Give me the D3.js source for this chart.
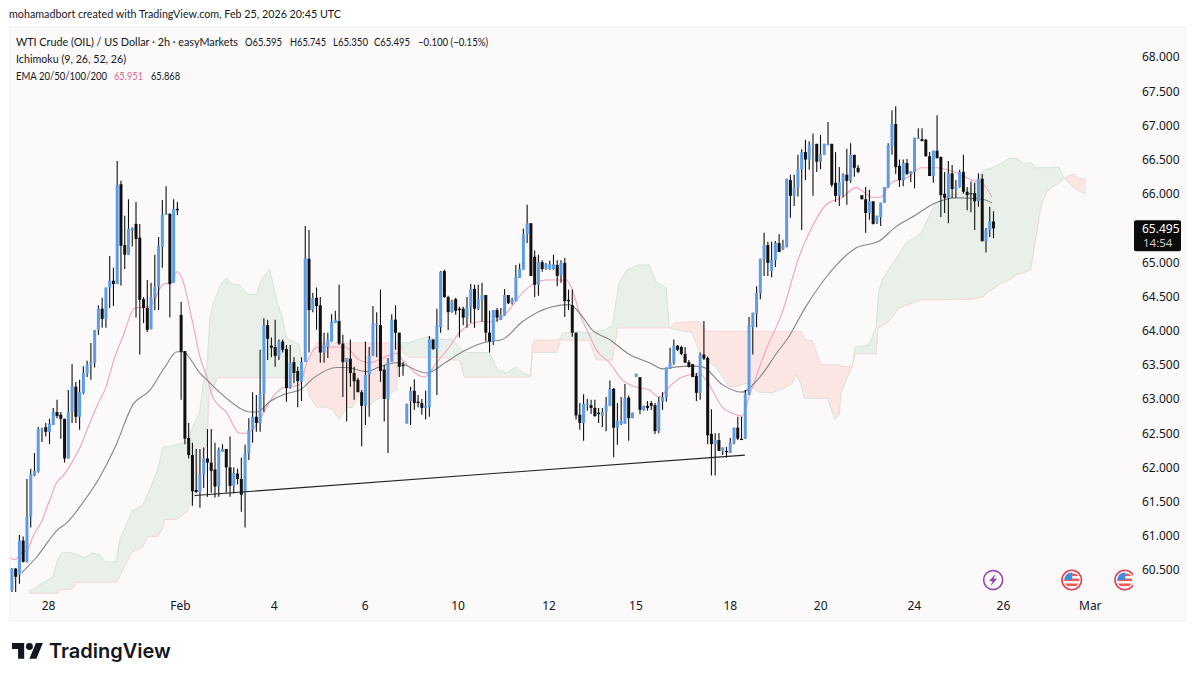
<!DOCTYPE html>
<html>
<head>
<meta charset="utf-8">
<script src="https://cdn.jsdelivr.net/npm/d3@7"></script>
<style>
  html, body { margin: 0; padding: 0; background: #ffffff; }
  text { font-family: Lato, sans-serif; fill: #131722; }
</style>
</head>
<body>
<div id="chart"></div>
<script>
// candles, 2h bars
const opens = [60.20,60.52,60.43,60.93,60.62,61.28,61.88,61.94,62.55,62.59,62.52,62.62,62.81,62.77,62.71,62.13,62.81,63.18,62.74,63.09,
  63.37,63.50,63.53,64.01,64.32,64.17,64.63,64.73,64.68,66.14,65.25,65.11,65.47,65.56,65.36,64.46,64.33,64.02,64.49,64.64,
  65.22,65.69,65.71,64.70,65.78,64.23,63.70,62.43,62.18,61.67,61.64,61.90,62.13,62.07,61.97,61.72,62.23,62.27,62.00,61.73,
  61.91,61.83,61.62,62.21,62.55,62.74,62.65,63.07,64.08,63.78,63.76,63.63,63.84,63.73,63.16,63.54,63.41,63.25,63.54,65.05,
  64.30,64.48,64.37,63.68,63.76,63.84,64.11,64.14,63.81,63.54,63.59,63.38,63.28,63.10,62.90,63.35,63.63,64.08,64.08,63.43,
  63.00,63.54,64.16,63.97,63.50,62.64,62.97,63.12,62.96,62.94,62.87,62.88,63.87,63.73,64.05,64.87,64.49,64.27,64.46,64.32,
  64.32,64.19,64.35,64.61,64.32,64.45,64.52,63.97,63.84,64.30,64.16,64.22,64.52,64.40,64.43,64.77,64.89,65.41,65.57,65.08,
  64.67,65.00,64.90,64.90,64.90,64.96,64.81,64.99,64.45,64.37,63.97,62.77,62.65,62.91,62.91,62.87,62.80,62.75,62.81,62.90,
  63.15,62.58,62.64,62.64,63.02,62.72,63.32,63.32,62.84,62.90,62.94,62.91,62.53,62.96,63.02,63.44,63.53,63.78,63.76,63.66,
  63.54,63.51,63.34,63.09,63.65,63.60,62.49,62.34,62.40,62.24,62.24,62.21,62.36,62.58,62.42,62.42,63.06,64.05,64.24,64.55,
  65.05,65.25,64.87,65.03,65.28,65.19,65.22,66.20,65.97,66.09,66.36,66.61,66.50,66.71,66.73,66.47,66.57,66.71,66.73,66.16,
  65.97,66.17,66.28,66.19,66.57,66.38,65.98,65.92,65.72,65.89,65.58,65.66,65.87,66.09,66.69,67.02,66.41,66.20,66.45,66.29,
  66.32,66.80,66.80,66.79,66.55,66.26,66.63,66.54,66.00,65.94,66.30,66.06,66.10,66.32,66.03,66.01,66.01,65.89,66.22,65.31,
  65.46,65.595];
const highs = [60.53,60.53,61.01,60.99,61.83,61.98,62.21,62.59,62.58,62.65,62.71,62.87,62.99,62.81,62.71,63.13,63.51,63.25,63.28,63.48,
  63.56,63.82,64.01,64.37,64.48,64.63,65.09,64.92,66.48,66.19,65.68,65.92,65.51,65.88,65.56,64.49,64.74,64.70,65.11,65.37,
  65.91,66.11,65.71,65.92,65.88,64.42,63.70,62.65,62.36,62.27,62.27,62.29,62.56,62.56,62.36,62.29,62.34,62.27,62.45,62.00,
  61.98,62.14,62.33,62.72,63.10,63.06,63.72,64.18,64.16,63.90,64.16,63.87,63.87,63.79,63.79,63.61,63.47,63.61,65.53,65.47,
  64.55,64.63,64.49,63.97,63.97,64.24,64.29,64.67,63.94,63.60,63.87,63.47,63.31,63.13,63.84,63.76,64.36,64.27,64.60,63.50,
  63.60,64.24,64.37,63.97,63.54,62.93,63.18,63.29,63.06,63.00,63.12,63.92,63.87,64.32,64.87,64.89,64.51,64.45,64.48,64.35,
  64.35,64.49,64.68,64.67,64.67,64.70,64.52,64.29,64.30,64.33,64.33,64.61,64.52,64.48,64.96,64.98,65.49,65.84,65.57,65.17,
  65.11,65.03,64.99,65.02,65.11,65.03,65.03,65.06,64.60,64.60,63.97,62.94,63.07,63.00,62.99,62.99,62.87,62.87,63.03,63.27,
  63.16,62.94,63.03,63.22,63.05,62.80,63.37,63.32,62.90,62.97,62.97,62.94,63.03,63.10,63.46,63.75,63.87,63.79,63.78,63.76,
  63.57,63.51,63.38,63.68,64.14,63.62,62.85,62.50,62.50,62.29,62.30,62.43,62.58,62.74,62.74,63.13,64.20,64.26,64.65,65.05,
  65.43,65.30,65.30,65.31,65.41,65.33,66.22,66.28,66.28,66.57,66.65,66.79,66.77,66.88,66.73,66.86,66.73,67.05,66.73,66.61,
  66.39,66.30,66.66,66.74,66.57,66.42,65.98,66.10,66.06,65.89,65.68,65.87,66.10,66.74,67.22,67.28,66.50,66.50,66.51,66.33,
  66.82,66.96,66.96,66.80,66.61,66.63,67.15,66.54,66.32,66.48,66.42,66.20,66.35,66.57,66.10,66.18,66.16,66.30,66.29,65.50,
  65.81,65.745];
const lows = [60.18,60.18,60.30,60.61,60.61,61.12,61.87,61.92,62.37,62.45,62.34,62.62,62.72,62.42,62.07,62.13,62.65,62.65,62.55,63.07,
  63.32,63.28,63.46,63.94,64.04,64.04,64.33,64.36,64.68,64.66,64.90,65.11,65.23,64.19,63.65,64.11,63.98,64.02,64.30,64.30,
  64.92,65.69,64.19,64.70,65.69,62.99,62.34,62.13,61.44,61.63,61.41,61.70,61.57,61.63,61.56,61.57,62.23,61.63,61.57,61.62,
  61.75,61.35,61.12,62.11,62.36,62.52,62.52,62.81,63.57,63.61,63.47,63.57,63.68,62.96,63.15,63.23,62.88,62.97,63.54,63.68,
  64.27,64.01,63.53,63.53,63.60,63.84,64.11,63.79,63.03,62.67,63.18,62.99,63.10,62.31,62.62,62.74,63.63,63.61,63.25,62.67,
  62.21,63.54,63.72,63.32,63.34,62.64,62.62,62.84,62.88,62.77,62.70,62.74,63.72,63.06,63.97,64.48,64.01,64.26,64.23,63.90,
  64.08,64.04,64.11,64.04,64.30,64.13,63.84,63.68,63.79,64.13,64.16,64.22,64.39,64.38,64.43,64.77,64.89,65.28,64.80,64.49,
  64.51,64.86,64.89,64.89,64.89,64.65,64.70,64.20,64.30,63.91,62.70,62.55,62.39,62.83,62.78,62.74,62.65,62.59,62.53,62.90,
  62.15,62.33,62.62,62.64,62.39,62.72,63.32,62.78,62.83,62.83,62.84,62.49,62.50,62.84,62.96,63.44,63.50,63.70,63.64,63.53,
  63.46,63.32,62.97,62.99,63.57,62.34,61.88,61.88,62.24,62.18,62.14,62.21,62.34,62.40,62.42,62.42,63.06,63.65,64.05,64.46,
  64.80,64.80,64.78,64.93,65.15,65.18,65.22,65.65,65.82,65.96,65.47,66.20,66.35,65.97,66.32,66.36,66.57,66.71,66.10,65.88,
  65.82,65.95,65.84,66.16,66.25,66.30,65.92,65.43,65.62,65.55,65.56,65.53,65.87,66.09,66.57,66.29,66.10,66.11,66.28,66.17,
  66.08,66.80,66.77,66.54,66.26,66.16,66.52,65.66,65.72,65.57,65.94,65.94,66.09,66.00,65.76,65.73,65.47,65.81,65.30,65.14,
  65.37,65.35];
const closes = [60.52,60.40,60.93,60.62,61.28,61.90,61.95,62.56,62.56,62.52,62.64,62.81,62.75,62.71,62.13,62.81,63.19,62.74,63.10,63.38,
  63.50,63.54,64.01,64.32,64.17,64.63,64.73,64.68,66.13,65.24,65.11,65.49,65.50,65.34,64.45,64.33,64.01,64.49,64.64,65.24,
  65.69,65.71,64.68,65.78,65.76,63.69,62.42,62.18,61.65,61.64,61.90,62.13,62.07,61.95,61.72,62.26,62.27,62.00,61.73,61.92,
  61.83,61.60,62.21,62.55,62.74,62.65,63.07,64.08,63.88,63.75,63.63,63.84,63.72,63.16,63.53,63.38,63.26,63.54,65.06,64.30,
  64.48,64.36,63.68,63.79,63.87,64.13,64.16,63.81,63.54,63.60,63.38,63.26,63.10,62.90,63.35,63.63,64.10,64.10,63.41,63.00,
  63.54,64.16,63.97,63.47,63.48,62.93,63.12,62.94,62.94,62.87,62.90,63.87,63.73,64.08,64.86,64.49,64.27,64.43,64.29,64.30,
  64.19,64.35,64.61,64.32,64.46,64.52,63.97,63.84,64.30,64.19,64.23,64.52,64.40,64.45,64.79,64.90,65.41,65.57,64.80,64.67,
  65.00,64.90,64.97,64.97,64.97,64.80,64.99,64.43,64.43,63.97,62.76,62.65,62.93,62.93,62.87,62.75,62.78,62.81,62.91,63.15,
  62.58,62.68,62.68,63.02,62.72,62.80,63.37,62.84,62.90,62.87,62.90,62.53,62.96,63.03,63.46,63.53,63.78,63.72,63.66,63.53,
  63.47,63.32,63.09,63.65,63.59,62.47,62.34,62.40,62.24,62.29,62.23,62.36,62.58,62.42,62.40,63.07,64.08,64.26,64.55,65.05,
  65.25,64.99,65.03,65.28,65.15,65.24,66.22,65.97,66.09,66.36,66.61,66.50,66.71,66.73,66.47,66.58,66.73,66.73,66.13,65.97,
  66.17,66.28,66.19,66.57,66.38,66.32,65.92,65.72,65.89,65.56,65.68,65.87,66.10,66.71,67.02,66.39,66.20,66.45,66.29,66.33,
  66.82,66.82,66.77,66.55,66.26,66.63,66.52,65.98,65.94,66.30,66.07,66.10,66.32,66.03,65.98,66.00,65.89,66.22,65.31,65.47,
  65.60,65.495];

// ichimoku leading spans, sampled where the edge of the cloud bends
const cloudBars = [4.5,8.2,10.9,12.2,12.7,13.5,15.9,17.5,19.4,21.2,23.4,24.7,27.3,27.9,28.7,31.9,34.8,36.1,38.0,38.8,40.1,40.6,43.8,46.5,49.1,49.9,51.0,51.8,52.0,52.3,52.6,53.4,54.7,55.8,57.1,58.7,60.5,62.7,65.1,65.9,68.5,70.4,72.0,73.0,73.8,76.5,77.6,
  78.4,79.2,81.0,83.7,85.3,87.1,89.0,90.6,92.4,94.6,97.0,98.5,102.3,102.5,103.1,103.5,
  103.9,105.7,110.5,112.9,115.5,117.1,119.0,120.3,120.9,127.0,129.1,131.5,134.1,135.8,137.6,137.9,
  138.4,138.9,144.8,145.6,145.8,
  146.4,150.4,153.5,155.4,157.5,159.7,161.0,161.5,163.6,166.8,169.5,171.3,174.0,174.8,175.1,
  176.1,180.9,182.8,184.6,187.3,190.7,192.6,195.2,198.7,202.1,205.3,207.5,208.5,209.9,210.7,212.8,215.2,216.8,218.9,220.0,220.5,223.4,
  224.2,227.9,229.8,230.3,230.6,231.4,232.7,235.9,237.8,241.8,243.4,245.7,255.3,258.5,259.3,260.6,263.3,265.1,267.2,269.1,270.4,270.9,272.5,273.6,275.2,276.5,278.4,279.7,
  281.1,282.4,283.7,285.6];
const spanA = [60.19,60.31,60.40,60.65,60.71,60.76,60.75,60.72,60.68,60.75,60.72,60.62,60.62,60.68,60.94,61.36,61.45,61.60,61.86,61.97,62.29,62.30,62.33,62.37,62.72,62.80,63.28,63.47,63.57,63.87,64.16,64.37,64.56,64.70,64.77,64.68,64.67,64.53,64.53,64.70,64.90,64.45,64.16,63.90,63.87,63.79,63.34,
  63.18,63.03,62.88,62.88,62.84,62.70,62.87,62.88,63.09,62.88,62.99,63.03,63.13,63.43,63.69,63.78,
  63.82,63.83,63.91,63.88,63.87,63.87,63.76,63.69,63.68,63.68,63.43,63.38,63.47,63.38,63.35,63.33,
  63.68,63.68,63.68,63.79,63.87,
  63.96,63.99,63.96,63.99,64.01,64.08,64.55,64.71,64.89,64.96,64.96,64.71,64.62,64.05,64.04,
  64.02,63.97,63.68,63.57,63.46,63.18,63.18,63.23,63.10,63.09,63.16,63.23,63.35,63.20,63.01,63.01,63.01,63.01,62.70,62.77,63.10,63.47,
  63.76,63.79,64.05,64.49,64.60,64.74,64.86,65.12,65.28,65.43,65.62,65.87,66.10,66.35,66.36,66.38,66.45,66.52,66.52,66.43,66.46,66.45,66.38,66.38,66.38,66.38,66.39,66.23,
  66.16,66.09,66.04,66.00];
const spanB = [60.16,60.16,60.16,60.16,60.21,60.21,60.22,60.32,60.32,60.32,60.32,60.32,60.32,60.32,60.41,60.76,60.84,60.99,60.99,60.99,61.12,61.24,61.24,61.35,61.63,62.07,62.23,62.34,62.36,63.03,63.06,63.13,63.31,63.31,63.31,63.31,63.31,63.31,63.31,63.31,63.31,63.31,63.31,63.31,63.31,63.31,63.34,
  63.53,63.64,63.82,63.82,63.82,63.82,63.82,63.82,63.82,63.82,63.82,63.82,63.82,63.82,63.80,63.78,
  63.68,63.61,63.61,63.61,63.60,63.57,63.57,63.32,63.32,63.32,63.32,63.32,63.32,63.32,63.32,63.33,
  63.79,63.86,63.86,63.88,63.87,
  63.86,63.86,63.86,63.57,63.57,63.57,64.04,64.04,64.04,64.04,64.04,64.04,64.04,64.04,64.04,
  64.11,64.13,64.13,63.99,63.99,63.99,63.99,63.99,63.99,63.99,63.99,63.99,63.99,63.99,63.87,63.85,63.50,63.50,63.50,63.50,63.48,63.47,
  63.66,63.66,63.66,64.05,64.05,64.07,64.11,64.33,64.37,64.45,64.45,64.45,64.46,64.50,64.56,64.60,64.70,64.74,64.82,64.85,64.88,64.89,65.44,65.81,66.03,66.09,66.16,66.23,
  66.26,66.29,66.22,66.22];

// EMA 20
const ema20Bars = [-0.5,0.8,2.6,4.2,5.6,7.9,10.1,11.9,13.5,15.9,18.1,20.7,23.4,24.7,27.4,29.5,32.7,36.7,40.1,42.5,43.9,45.2,47.9,50.0,52.1,53.4,57.1,60.5,62.7,65.9,69.4,72.0,73.9,76.5,78.4,81.0,84.5,88.5,92.4,95.1,98.6,102.3,103.9,109.7,112.9,116.3,119.0,124.3,127.7,132.2,135.7,142.1,147.4,149.0,150.9,153.5,155.4,158.9,162.3,165.0,169.5,172.1,174.8,178.2,182.8,184.6,188.9,192.6,194.2,196.0,200.5,204.8,209.3,212.0,216.5,220.8,224.5,228.7,231.1,232.4,234.0,237.8,241.8,245.7,251.0,255.3,257.9,260.6];
const ema20 = [60.68,60.65,60.75,60.80,60.99,61.21,61.53,61.78,61.87,62.07,62.29,62.65,62.99,63.13,63.62,63.91,64.33,64.35,64.67,64.71,64.86,64.77,64.16,63.62,63.28,63.03,62.80,62.50,62.50,62.70,63.03,63.16,63.18,63.21,63.53,63.75,63.76,63.76,63.57,63.53,63.60,63.67,63.57,63.32,63.53,63.76,63.97,64.13,64.13,64.30,64.55,64.74,64.74,64.60,64.26,63.94,63.72,63.53,63.28,63.19,63.13,63.03,63.18,63.32,63.37,63.28,62.88,62.77,62.75,63.03,63.72,64.26,65.08,65.43,65.84,65.95,66.09,65.95,65.95,66.06,66.17,66.23,66.38,66.38,66.31,66.20,66.16,65.951];

// EMA 50
const ema50Bars = [2.6,6.6,12.2,14.6,18.8,23.4,27.4,32.1,36.7,40.6,43.9,45.4,50.0,51.8,55.2,60.5,63.2,65.3,68.5,72.0,73.9,76.5,80.5,86.4,89.0,94.3,97.7,102.3,110.2,115.5,119.8,125.1,130.4,135.7,143.7,148.2,150.9,154.3,158.9,164.2,169.5,173.0,176.7,180.9,183.6,188.9,194.2,198.7,204.0,206.1,211.1,216.5,224.5,230.6,235.1,239.4,245.7,251.0,257.9,260.6];
const ema50 = [60.46,60.69,61.09,61.19,61.48,61.86,62.29,62.91,63.13,63.46,63.69,63.69,63.38,63.28,63.10,62.87,62.81,62.81,62.96,63.06,63.09,63.13,63.32,63.46,63.46,63.40,63.47,63.53,63.38,63.54,63.69,63.82,63.87,64.13,64.35,64.38,64.26,64.01,63.87,63.65,63.53,63.44,63.47,63.48,63.47,63.21,63.10,63.31,63.72,63.87,64.35,64.78,65.21,65.31,65.52,65.66,65.87,65.94,65.92,65.868];

// hand drawn trend line
const trendBars = [48.6, 194.9];
const trendPrices = [61.59, 62.18];

// axes
const priceTicks = [68,67.5,67,66.5,66,65,64.5,64,63.5,63,62.5,62,61.5,61,60.5];
const dateLabels = ["28","Feb","4","6","10","12","15","18","20","24","26","Mar"];
const dateBars = [9.6,44.7,69.6,93.8,118.5,142.7,165.8,190.9,214.9,239.8,263.5,286.6];

// calendar events on the time axis
const eventBars = [260.9,281.8,295.9];
const eventKinds = ["earnings","flag","flag"];

const lastPrice = 65.495;
const countdown = "14:54";

const width = 1195, height = 681;
const panel = { left: 10, top: 27, right: 1185, bottom: 621 };
const plotRight = 1133;

const BLUE = "#5e9de6", BLACK = "#111111";
const AXIS_FONT = '"Noto Sans", sans-serif';

const svg = d3.select("#chart").append("svg")
  .attr("width", width)
  .attr("height", height)
  .style("display", "block");

svg.append("rect")
  .attr("x", panel.left).attr("y", panel.top)
  .attr("width", panel.right - panel.left).attr("height", panel.bottom - panel.top)
  .attr("fill", "#fbf9fa")
  .attr("stroke", "#f2f0f1");

svg.append("clipPath").attr("id", "plot").append("rect")
  .attr("x", panel.left).attr("y", panel.top)
  .attr("width", plotRight - panel.left).attr("height", panel.bottom - panel.top);

const x = d3.scaleLinear().domain([0, 261]).range([11.9, 993.5]);
const y = d3.scaleLinear().domain([68, 60.5]).range([57, 570]);

const g = svg.append("g").attr("clip-path", "url(#plot)");

// Cloud
const cloud = cloudBars.map((bar, i) => ({ bar, a: spanA[i], b: spanB[i] }));
const cloudArea = d3.area()
  .x(d => x(d.bar))
  .y0(d => y(d.a))
  .y1(d => y(d.b));

g.append("path")
  .attr("d", cloudArea.defined(d => d.a >= d.b)(cloud))
  .attr("fill", "#e8f0e9");
g.append("path")
  .attr("d", cloudArea.defined(d => d.a <= d.b)(cloud))
  .attr("fill", "#fbe6e4");

g.append("path")
  .attr("d", d3.line().x(d => x(d.bar)).y(d => y(d.a))(cloud))
  .attr("fill", "none")
  .attr("stroke", "#d6e5d8");
g.append("path")
  .attr("d", d3.line().x(d => x(d.bar)).y(d => y(d.b))(cloud))
  .attr("fill", "none")
  .attr("stroke", "#f5d6d3");

// EMAs
const emaLine = d3.line().curve(d3.curveMonotoneX).x(d => x(d[0])).y(d => y(d[1]));
g.append("path")
  .attr("d", emaLine(d3.zip(ema20Bars, ema20)))
  .attr("fill", "none")
  .attr("stroke", "#f0a3bc")
  .attr("stroke-width", 1.1);
g.append("path")
  .attr("d", emaLine(d3.zip(ema50Bars, ema50)))
  .attr("fill", "none")
  .attr("stroke", "#858585")
  .attr("stroke-width", 1.1);

// Candles
const bars = opens.map((o, i) => ({ i, o, h: highs[i], l: lows[i], c: closes[i] }));
const candle = g.selectAll(".candle").data(bars).enter().append("g").attr("class", "candle");

candle.append("line")
  .attr("x1", d => x(d.i)).attr("x2", d => x(d.i))
  .attr("y1", d => y(d.h)).attr("y2", d => y(d.l))
  .attr("stroke", BLACK)
  .attr("stroke-width", 1.1);

candle.append("rect")
  .attr("x", d => x(d.i) - 1.5)
  .attr("y", d => y(Math.max(d.o, d.c)))
  .attr("width", 3)
  .attr("height", d => Math.max(1.2, Math.abs(y(d.o) - y(d.c))))
  .attr("fill", d => d.c >= d.o ? BLUE : BLACK);

// Trend line
g.append("line")
  .attr("x1", x(trendBars[0])).attr("y1", y(trendPrices[0]))
  .attr("x2", x(trendBars[1])).attr("y2", y(trendPrices[1]))
  .attr("stroke", "#222222")
  .attr("stroke-width", 1.1);

// Event icons
const events = g.selectAll(".event").data(eventBars).enter().append("g")
  .attr("class", "event")
  .attr("transform", d => `translate(${x(d)},580)`);

events.filter((d, i) => eventKinds[i] === "earnings").each(function () {
  const e = d3.select(this);
  e.append("circle").attr("r", 9.5).attr("fill", "#fbf9fa").attr("stroke", "#8e3fae").attr("stroke-width", 1.5);
  e.append("path").attr("d", "M2.5,-6 L-4,1 L-0.5,1 L-2.5,6 L4,-1.2 L0.5,-1.2 Z").attr("fill", "#8e3fae");
});

events.filter((d, i) => eventKinds[i] === "flag").each(function (d, i) {
  const e = d3.select(this);
  const id = "flagclip" + i;
  e.append("clipPath").attr("id", id).append("circle").attr("r", 7.5);
  const f = e.append("g").attr("clip-path", `url(#${id})`);
  f.append("rect").attr("x", -8).attr("y", -8).attr("width", 16).attr("height", 16).attr("fill", "#ffffff");
  d3.range(0, 3).forEach(k => {
    f.append("rect").attr("x", -8).attr("y", -6.5 + k * 5).attr("width", 16).attr("height", 2.6).attr("fill", "#ef5a55");
  });
  f.append("rect").attr("x", -8).attr("y", -8).attr("width", 8.5).attr("height", 8).attr("fill", "#3f8fe0");
  e.append("circle").attr("r", 9.8).attr("fill", "none").attr("stroke", "#e0434f").attr("stroke-width", 1.6);
});

// Price axis
svg.append("g")
  .attr("transform", `translate(1142,0)`)
  .call(d3.axisRight(y).tickValues(priceTicks).tickFormat(d3.format(".3f")).tickSize(0).tickPadding(0))
  .call(s => s.select(".domain").remove())
  .selectAll("text")
  .attr("font-size", "12px")
  .style("font-family", AXIS_FONT)
  .attr("fill", "#131722");

// Time axis
const dateOf = d3.scaleOrdinal().domain(dateBars).range(dateLabels);
svg.append("g")
  .attr("transform", `translate(0,601)`)
  .call(d3.axisBottom(x).tickValues(dateBars).tickFormat(d => dateOf(d)).tickSize(0).tickPadding(0))
  .call(s => s.select(".domain").remove())
  .selectAll("text")
  .attr("font-size", "12px")
  .style("font-family", AXIS_FONT)
  .attr("fill", "#131722");

// Last price tag
svg.append("rect")
  .attr("x", 1134).attr("y", y(lastPrice) - 8)
  .attr("width", 47).attr("height", 31).attr("rx", 2)
  .attr("fill", "#0c0c0c");
svg.append("text")
  .attr("x", 1142).attr("y", y(lastPrice) + 5)
  .attr("font-size", "12px")
  .style("font-family", AXIS_FONT)
  .style("fill", "#ffffff")
  .text(d3.format(".3f")(lastPrice));
svg.append("text")
  .attr("x", 1143).attr("y", y(lastPrice) + 19)
  .attr("font-size", "11.5px")
  .style("font-family", AXIS_FONT)
  .style("fill", "#c9c9c9")
  .text(countdown);

// Header and legend, squeezed to the widths in the picture
const label = (tx, ty, s, len, fill) => svg.append("text")
  .attr("x", tx).attr("y", ty)
  .attr("font-size", "11.5px")
  .attr("textLength", len)
  .attr("lengthAdjust", "spacingAndGlyphs")
  .style("fill", fill || "#131722")
  .text(s);

label(9, 18, "mohamadbort created with TradingView.com, Feb 25, 2026 20:45 UTC", 332);
label(16, 46, "WTI Crude (OIL) / US Dollar · 2h · easyMarkets", 222);
label(245, 46, "O65.595", 37);
label(290, 46, "H65.745", 36);
label(333, 46, "L65.350", 35);
label(374, 46, "C65.495", 36);
label(418, 46, "−0.100 (−0.15%)", 70);
label(16, 63, "Ichimoku (9, 26, 52, 26)", 110);
label(16, 80, "EMA 20/50/100/200", 91);
label(114, 80, "65.951", 29, "#e2689a");
label(151, 80, "65.868", 29);

// TradingView logo
const logo = svg.append("g").attr("transform", "translate(12,639.5) scale(0.87)");
logo.append("path").attr("d", "M14 22H7V11H0V4h14v18zM28 22h-8l7.5-18h8L28 22z").attr("fill", "#131722");
logo.append("circle").attr("cx", 20).attr("cy", 8).attr("r", 4).attr("fill", "#131722");
svg.append("text")
  .attr("x", 49).attr("y", 658)
  .attr("font-size", "20px")
  .attr("font-weight", 600)
  .style("font-family", "Inter, sans-serif")
  .text("TradingView");
</script>
</body>
</html>
